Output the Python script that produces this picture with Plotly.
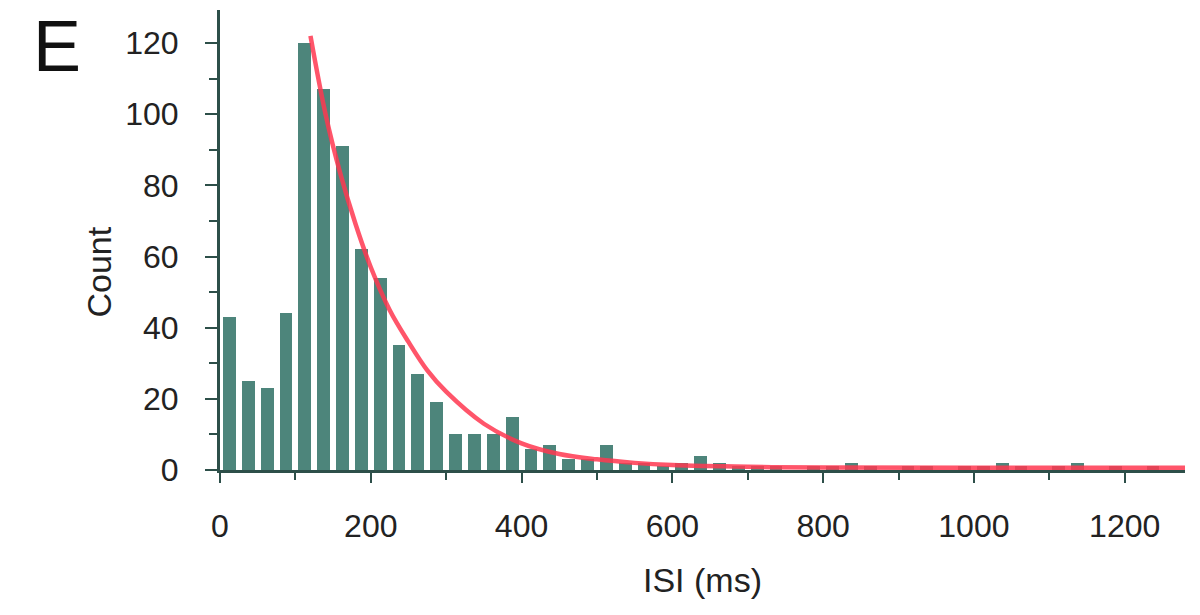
import numpy as np
import plotly.graph_objects as go

# ISI histogram (25 ms bins starting at 0 ms)
bin_width = 25
counts = [43, 25, 23, 44, 120, 107, 91, 62, 54, 35,
          27, 19, 10, 10, 10, 15, 6, 7, 3, 3,
          7, 2, 2, 1, 2, 4, 2, 1, 1, 1,
          0, 1, 1, 2, 1, 0, 1, 1, 0, 1,
          1, 2, 1, 0, 1, 2, 0, 1, 0, 1,
          0, 0]

# exponential fit curve
fit_t = [120, 140, 160, 180, 200, 225, 250, 275, 300, 350, 400, 450, 500, 550, 600, 700, 800, 1000, 1280]
fit_y = [122, 100, 83, 69, 57, 45, 36, 28, 22, 13, 7.5, 4.5, 3.0, 2.0, 1.4, 0.9, 0.7, 0.6, 0.6]

x_ticks = [0, 200, 400, 600, 800, 1000, 1200]
y_ticks = [0, 20, 40, 60, 80, 100, 120]

centers = (np.arange(len(counts)) + 0.5) * bin_width

FONT = "Liberation Sans, Arial, sans-serif"
AXC = "#2d4f49"

fig = go.Figure()
fig.add_trace(go.Bar(x=centers, y=counts, width=bin_width * 0.68,
                     marker=dict(color="#4d857b", line=dict(width=0))))
fig.add_trace(go.Scatter(x=fit_t, y=fit_y, mode="lines", line_shape="spline",
                         line=dict(color="rgba(255,55,80,0.85)", width=4.5)))

fig.update_layout(
    width=1200, height=615,
    margin=dict(l=220, r=15, t=10, b=145),
    paper_bgcolor="white", plot_bgcolor="white",
    showlegend=False,
    font=dict(family=FONT, size=32, color="#222222"),
    bargap=0,
)
fig.update_xaxes(
    range=[0, 1280], tickvals=x_ticks, showgrid=False, zeroline=False,
    showline=True, linecolor=AXC, linewidth=3,
    ticks="outside", ticklen=10, tickwidth=2, tickcolor=AXC,
    minor=dict(dtick=100, tick0=0, ticks="outside", ticklen=7, tickwidth=2, tickcolor=AXC),
    ticklabelstandoff=16,
    tickfont=dict(family=FONT, size=32),
)
fig.update_yaxes(
    range=[0, 129.3], tickvals=y_ticks, showgrid=False, zeroline=False,
    showline=True, linecolor=AXC, linewidth=3,
    ticks="outside", ticklen=12, tickwidth=2, tickcolor=AXC,
    minor=dict(dtick=10, tick0=0, ticks="outside", ticklen=8, tickwidth=2, tickcolor=AXC),
    ticklabelstandoff=20,
    tickfont=dict(family=FONT, size=32),
)
fig.add_annotation(text="ISI (ms)", xref="paper", yref="paper", x=0.5, y=-0.24,
                   xanchor="center", yanchor="middle", showarrow=False,
                   font=dict(family=FONT, size=34))
fig.add_annotation(text="Count", xref="paper", yref="paper", x=-0.125, y=0.43,
                   xanchor="center", yanchor="middle", showarrow=False, textangle=-90,
                   font=dict(family=FONT, size=34))
fig.add_annotation(text="E", xref="paper", yref="paper", x=-0.169, y=0.922,
                   xanchor="center", yanchor="middle", showarrow=False,
                   font=dict(family=FONT, size=72, color="#111111"))

fig.write_html("out.html")
